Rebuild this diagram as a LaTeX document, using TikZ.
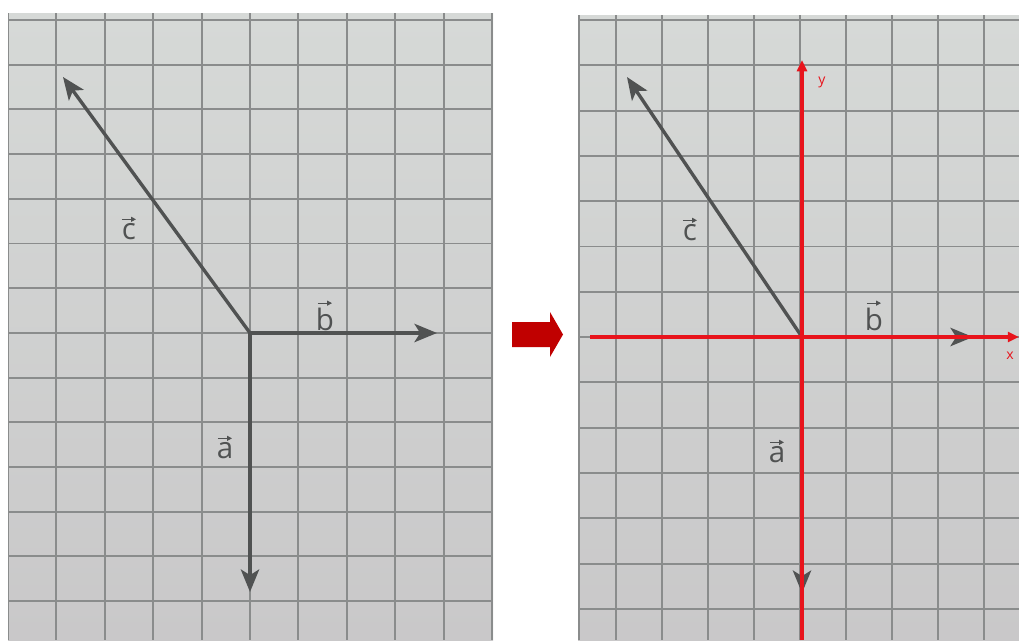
\documentclass[tikz,border=0pt]{standalone}
\usepackage{fontspec}
\usetikzlibrary{arrows.meta}
\newfontfamily\labfont{Open Sans}
\definecolor{papier}{HTML}{D6D9D7}
\definecolor{papierbas}{HTML}{C9C8C9}
\definecolor{trait}{HTML}{8A8C8C}
\definecolor{crayon}{HTML}{505252}
\definecolor{rouge}{HTML}{E8141C}
\definecolor{fleche}{HTML}{C00000}
\tikzset{
  grille/.style={draw=trait, line width=1.3pt},
  vecteur/.style={draw=crayon, line width=2.4pt, -{Stealth[length=16pt,width=13pt,inset=4pt]}},
  petitefleche/.style={draw=crayon, line width=0.8pt, -{Triangle[length=3.5pt,width=3.5pt]}},
  axe/.style={draw=rouge, line width=2.5pt, -{Triangle[length=8pt,width=7pt]}},
  nomvec/.style={text=crayon, inner sep=0pt, font=\labfont\fontsize{21}{22}\selectfont},
  nomaxe/.style={text=rouge, inner sep=0pt, font=\labfont\fontsize{10}{11}\selectfont},
}
% petite fleche au-dessus d'un nom de vecteur
\newcommand{\surfleche}[1]{\draw[petitefleche] ([xshift=-5pt,yshift=3pt]#1.north) -- ([xshift=5pt,yshift=3pt]#1.north);}
\begin{document}
\begin{tikzpicture}[x=0.025cm, y=-0.025cm]
  \useasboundingbox (0,0) rectangle (1019,640);
  \fill[white] (0,0) rectangle (1019,640);
  % Feuille gauche
  \fill[top color=papier, bottom color=papierbas] (8,13) rectangle (493,640);
  \begin{scope}
    \clip (8,13) rectangle (493,640);
    \foreach \i in {0,...,10} {
      \draw[grille] ({8+48.4*\i},13) -- ({8+48.4*\i},640);
    }
    \foreach \j in {0,...,14} {
      \draw[grille] (8,{20+44.7*\j}) -- (493,{20+44.7*\j});
    }
  \end{scope}
  \coordinate (O1) at (250,333);
  \coordinate (A1) at (250,592);
  \coordinate (B1) at (437,333);
  \coordinate (C1) at (63,77);
  \draw[vecteur] (O1) -- (A1);
  \draw[vecteur] (O1) -- (B1);
  \draw[vecteur] (O1) -- (C1);
  \node[nomvec] (na1) at (225,451) {a};
  \node[nomvec] (nb1) at (325,319) {b};
  \node[nomvec] (nc1) at (129,232) {c};
  \surfleche{na1} \surfleche{nb1} \surfleche{nc1}
  % Fleche du milieu
  \fill[fleche] (512,322) -- (550,322) -- (550,312) -- (563,334.5) -- (550,357)
    -- (550,347) -- (512,347) -- cycle;
  % Feuille droite
  \fill[top color=papier, bottom color=papierbas] (578,15) rectangle (1019,640);
  \begin{scope}
    \clip (578,15) rectangle (1019,640);
    \draw[grille] (579,15) -- (579,640);
    \foreach \i in {-4,...,4} {
      \draw[grille] ({800+46*\i},15) -- ({800+46*\i},640);
    }
    \foreach \j in {0,...,14} {
      \draw[grille] (578,{20+45.3*\j}) -- (1019,{20+45.3*\j});
    }
  \end{scope}
  \coordinate (O2) at (802,337);
  \coordinate (A2) at (802,593);
  \coordinate (B2) at (973,337);
  \coordinate (C2) at (627,77);
  \draw[vecteur] (O2) -- (A2);
  \draw[vecteur] (O2) -- (B2);
  \draw[vecteur] (O2) -- (C2);
  \node[nomvec] (na2) at (777,455) {a};
  \node[nomvec] (nb2) at (874,319) {b};
  \node[nomvec] (nc2) at (690,233) {c};
  \surfleche{na2} \surfleche{nb2} \surfleche{nc2}
  % Axes rouges
  \coordinate (X0) at (590,337);
  \coordinate (X1) at (1019,337);
  \coordinate (Y0) at (802,640);
  \coordinate (Y1) at (802,60);
  \draw[axe] (X0) -- (X1);
  \draw[axe] (Y0) -- (Y1);
  \node[nomaxe] (ny) at (822,82) {y};
  \node[nomaxe] (nx) at (1010,356) {x};
\end{tikzpicture}
\end{document}
